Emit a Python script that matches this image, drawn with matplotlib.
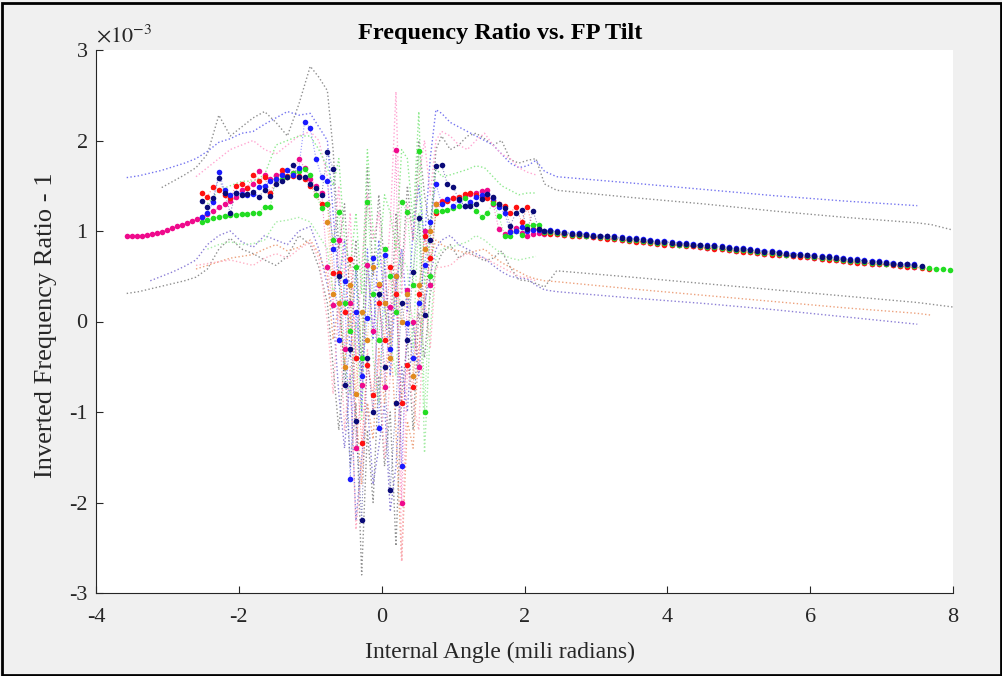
import numpy as np
import matplotlib.pyplot as plt
from matplotlib.patches import Rectangle

plt.rcParams['font.family'] = ['Liberation Serif', 'DejaVu Serif']
plt.rcParams['mathtext.fontset'] = 'stix'
plt.rcParams['axes.unicode_minus'] = False

nan = np.nan

# x positions of the mean points (mili radians)
x_left = [-3.57, -3.50, -3.43, -3.36, -3.29, -3.22, -3.15, -3.08, -3.01, -2.94, -2.87, -2.80, -2.73, -2.66, -2.59]
x_mid1 = [-2.52, -2.44, -2.36, -2.28, -2.20, -2.12, -2.04, -1.96, -1.88, -1.80, -1.72,
          -1.64, -1.56, -1.48, -1.40, -1.32, -1.24, -1.16, -1.08, -1.00, -0.92, -0.84]
x_cen = [-0.76, -0.68, -0.60, -0.52, -0.44, -0.36, -0.28, -0.20, -0.12, -0.04,
         0.04, 0.12, 0.20, 0.28, 0.36, 0.44, 0.52, 0.60, 0.68, 0.76]
x_mid2 = [0.84, 0.92, 1.00, 1.08, 1.16, 1.24, 1.32, 1.40, 1.48, 1.56, 1.64, 1.72,
          1.80, 1.88, 1.96, 2.04, 2.12, 2.20, 2.28]
x_right = [2.36, 2.46, 2.56, 2.66, 2.76, 2.86, 2.96, 3.06, 3.16, 3.26, 3.36, 3.46, 3.56, 3.66,
           3.76, 3.86, 3.96, 4.06, 4.16, 4.26, 4.36, 4.46, 4.56, 4.66, 4.76, 4.86, 4.96, 5.06,
           5.16, 5.26, 5.36, 5.46, 5.56, 5.66, 5.76, 5.86, 5.96, 6.06, 6.16, 6.26, 6.36, 6.46,
           6.56, 6.66, 6.76, 6.86, 6.96, 7.06, 7.16, 7.26, 7.36, 7.46, 7.56, 7.66]
x_green_tail = [7.76, 7.86, 7.96]

# mean values (x 1e-3)
pink_y = ([0.94, 0.94, 0.94, 0.95, 0.96, 0.97, 0.98, 0.99, 1.01, 1.03, 1.05, 1.07, 1.09, 1.11, 1.13]
          + [1.16, 1.19, 1.22, 1.26, 1.30, 1.33, 1.38, 1.45, 1.48, 1.52, 1.66, 1.62, 1.58, 1.62,
             1.63, 1.60, 1.64, 1.80, 1.70, 1.58, 1.50, 1.42]
          + [0.60, 0.18, 0.90, -0.30, 0.20, -1.40, -0.70, 0.62, -0.10, 0.40, -0.72, 0.16, 1.90,
             -2.00, 0.35, 0.00, -0.50, 1.00, 0.40, 1.30]
          + [1.33, 1.34, 1.36, 1.37, 1.39, 1.41, 1.42, 1.44, 1.45, 1.30, 1.02, 0.97, 1.00, 1.03,
             0.98, 0.95, 0.97, 0.98, 0.97]
          + [0.98, 0.97, 0.96, 0.96, 0.95, 0.94, 0.93, 0.93, 0.92, 0.91, 0.90, 0.90, 0.89, 0.88,
             0.87, 0.87, 0.86, 0.85, 0.84, 0.84, 0.83, 0.82, 0.81, 0.81, 0.80, 0.79, 0.78, 0.78,
             0.77, 0.76, 0.75, 0.75, 0.74, 0.73, 0.72, 0.72, 0.71, 0.70, 0.69, 0.69, 0.68, 0.67,
             0.66, 0.66, 0.65, 0.64, 0.64, 0.63, 0.62, 0.61, 0.61, 0.60])
red_y = ([1.42, 1.38, 1.49, 1.45, 1.40, 1.36, 1.50, 1.52, 1.48, 1.62, 1.55, 1.60, 1.42, 1.58,
          1.67, 1.61, 1.61, 1.61, 1.58, 1.50, 1.40, 1.30]
         + [1.30, 0.54, 0.54, 0.10, 0.69, -0.40, -1.34, -0.48, -0.81, 0.20, -0.20, 0.60, 0.30,
            -0.90, -0.48, -0.72, 0.30, 0.95, 0.70, 1.20]
         + [1.32, 1.33, 1.37, 1.38, 1.41, 1.42, 1.40, 1.38, 1.36, 1.33, 1.30, 1.28, 1.20, 1.27,
            1.10, 1.26, 1.02, 1.02, 0.98]
         + [0.97, 0.97, 0.96, 0.95, 0.94, 0.94, 0.93, 0.92, 0.91, 0.91, 0.90, 0.89, 0.88, 0.88,
            0.87, 0.86, 0.85, 0.85, 0.84, 0.83, 0.83, 0.82, 0.81, 0.80, 0.80, 0.79, 0.78, 0.77,
            0.77, 0.76, 0.75, 0.74, 0.74, 0.73, 0.72, 0.71, 0.71, 0.70, 0.69, 0.68, 0.68, 0.67,
            0.66, 0.65, 0.65, 0.64, 0.63, 0.63, 0.62, 0.61, 0.60, 0.60, 0.59, 0.58])
blue_y = ([1.15, 1.20, 1.32, 1.65, 1.45, 1.40, 1.42, 1.41, 1.40, 1.41, 1.49, 1.50, 1.55, 1.58,
           1.62, 1.67, 1.62, 1.70, 2.20, 2.14, 1.80, 1.60]
          + [1.55, 0.80, -0.20, 0.45, -1.74, 0.10, -0.60, 0.04, 0.70, -1.18, 0.74, -0.30, 0.50,
             -1.60, -0.02, -0.40, 0.20, 0.62, 1.10, 1.52]
          + [1.30, 1.35, 1.28, 1.34, 1.28, 1.32, 1.38, 1.40, 1.41, 1.36, 1.26, 1.20, 0.99, 1.00,
             1.04, 1.00, 1.01, 1.01, 1.00]
          + [1.01, 1.00, 0.99, 0.98, 0.98, 0.97, 0.96, 0.95, 0.95, 0.94, 0.93, 0.92, 0.92, 0.91,
             0.90, 0.89, 0.89, 0.88, 0.87, 0.87, 0.86, 0.85, 0.84, 0.84, 0.83, 0.82, 0.81, 0.81,
             0.80, 0.79, 0.78, 0.78, 0.77, 0.76, 0.75, 0.75, 0.74, 0.73, 0.72, 0.72, 0.71, 0.70,
             0.69, 0.69, 0.68, 0.67, 0.67, 0.66, 0.65, 0.64, 0.64, 0.63])
navy_y = ([1.33, 1.26, 1.37, 1.59, 1.42, 1.20, 1.42, 1.40, 1.41, 1.43, 1.38, 1.45, 1.39, 1.52,
           1.55, 1.60, 1.73, 1.60, 1.60, 1.52, 1.48, 1.40]
          + [1.87, 1.69, 0.50, -0.70, -0.30, -1.10, -2.19, -0.40, -1.00, 0.30, -0.50, -1.86, -0.90,
             0.20, -0.20, 0.55, 1.14, 0.07, 0.90, 1.72]
          + [1.73, 1.52, 1.49, 1.35, 1.28, 1.28, 1.30, 1.35, 1.41, 1.38, 1.30, 1.25, 1.06, 1.20,
             1.23, 1.02, 1.22, 1.02, 1.00]
          + [1.00, 0.99, 0.98, 0.97, 0.97, 0.96, 0.95, 0.94, 0.94, 0.93, 0.92, 0.91, 0.91, 0.90,
             0.89, 0.88, 0.88, 0.87, 0.86, 0.86, 0.85, 0.84, 0.83, 0.83, 0.82, 0.81, 0.80, 0.80,
             0.79, 0.78, 0.77, 0.77, 0.76, 0.75, 0.74, 0.74, 0.73, 0.72, 0.71, 0.71, 0.70, 0.69,
             0.68, 0.68, 0.67, 0.66, 0.66, 0.65, 0.64, 0.63, 0.63, 0.62, 0.61])
green_y = ([1.10, 1.12, 1.14, 1.16, 1.17, 1.18, 1.18, 1.19, 1.19, 1.20, 1.20, 1.27, 1.27, 1.58,
            1.58, 1.60, 1.64, 1.66, 1.68, 1.62, 1.40, 1.25]
           + [1.30, 0.90, 1.21, 0.20, -0.10, 0.60, -0.40, 1.32, 0.30, -0.20, 0.80, 0.50, 0.10,
              1.32, 1.21, 0.40, 1.88, -1.00, 0.50, 1.22]
           + [1.22, 1.23, 1.25, 1.28, 1.36, 1.30, 1.22, 1.16, 1.20, 1.31, 1.17, 0.95, 0.95, 1.00,
              0.96, 1.05, 1.07, 1.07, 0.99]
           + [0.99, 0.98, 0.97, 0.96, 0.96, 0.95, 0.94, 0.93, 0.93, 0.92, 0.91, 0.90, 0.90, 0.89,
              0.88, 0.87, 0.87, 0.86, 0.85, 0.85, 0.84, 0.83, 0.82, 0.82, 0.81, 0.80, 0.79, 0.79,
              0.78, 0.77, 0.76, 0.76, 0.75, 0.74, 0.73, 0.73, 0.72, 0.71, 0.70, 0.70, 0.69, 0.68,
              0.67, 0.67, 0.66, 0.65, 0.65, 0.64, 0.63, 0.62, 0.62, 0.61, 0.60, 0.59]
           + [0.58, 0.58, 0.57])
orange_y = [1.10, 0.30, 0.20, -0.50, 0.40, -0.80, 0.10, -0.20, 0.60, 0.41, 0.20, -0.40, 0.50,
            0.00, 0.30, -0.60, 0.40, 0.80, 1.00, 1.30]

# spread (upper / lower) curves, shared x grid
xb_left = [-3.57, -3.4, -3.24, -3.08, -2.92, -2.76, -2.6, -2.44, -2.28, -2.12, -1.96, -1.8,
           -1.64, -1.48, -1.32, -1.16, -1.0, -0.88]
xb_mid2 = [0.84, 0.96, 1.08, 1.2, 1.32, 1.44, 1.56, 1.68, 1.8, 1.92, 2.04, 2.16, 2.28]
xb_right = [2.45, 3.5, 4.5, 5.5, 6.5, 7.5, 7.7, 8.0]

blue_up = ([1.59, 1.61, 1.64, 1.67, 1.71, 1.75, 1.80, 1.88, 1.98, 2.02, 2.08, 2.10, 2.18, 2.25, 2.32, 2.28, 2.30, 2.15]
           + [2.00, 1.20, 0.40, 0.90, -0.40, 0.60, -1.00, 0.80, -0.20, 0.90, 0.20, -0.60, 0.40, 0.80, 0.10, 1.00, 1.50, 0.90, 1.80, 2.34]
           + [2.30, 2.20, 2.15, 2.10, 2.05, 2.00, 1.95, 1.85, 1.75, 1.70, 1.72, 1.78, 1.66]
           + [1.60, 1.53, 1.46, 1.39, 1.33, 1.28, nan, nan])
gray_up = ([nan, nan, nan, 1.48, 1.55, 1.62, 1.70, 1.85, 2.28, 2.05, 2.15, 2.25, 2.32, 2.20, 2.05, 2.40, 2.82, 2.70]
           + [2.55, 1.90, 0.80, 1.30, 0.20, 0.90, -0.60, 1.70, 0.50, 1.40, 0.60, -0.20, 1.20, 0.50, 1.50, 0.90, 2.00, 1.40, 1.00, 1.90]
           + [2.05, 1.90, 1.95, 2.05, 2.08, 2.02, 1.95, 2.00, 1.79, 1.75, 1.78, 1.80, 1.52]
           + [1.45, 1.37, 1.30, 1.22, 1.15, 1.09, 1.07, 1.01])
gray_lo = ([0.31, 0.33, 0.36, 0.39, 0.42, 0.45, 0.49, 0.58, 0.80, 0.92, 0.80, 0.75, 0.68, 0.62, 0.72, 0.95, 0.85, 0.60]
           + [0.20, -0.50, -1.20, -0.40, -1.60, -0.90, -2.80, -1.20, -2.00, -0.60, -1.60, -1.00, -2.48, -0.80, -0.20, -1.20, 0.10, -0.40, 0.30, 0.60]
           + [0.75, 0.85, 0.70, 0.78, 0.72, 0.67, 0.70, 0.78, 0.60, 0.46, 0.45, 0.42, 0.38]
           + [0.56, 0.49, 0.42, 0.35, 0.28, 0.21, 0.19, 0.16])
purple_lo = ([nan, nan, 0.45, 0.50, 0.55, 0.61, 0.68, 0.85, 0.95, 1.00, 0.88, 0.82, 0.95, 0.90, 0.85, 1.00, 1.05, 0.80]
             + [0.40, 0.10, -0.80, -1.40, -0.60, -2.20, -1.50, -0.90, -1.80, -1.39, -0.90, -2.10, -1.60, -0.50, -1.00, 0.00, -0.60, 0.20, 0.50, 0.80]
             + [0.90, 0.95, 0.85, 0.80, 0.75, 0.70, 0.62, 0.55, 0.50, 0.48, 0.47, 0.40, 0.35]
             + [0.33, 0.26, 0.20, 0.13, 0.05, -0.03, nan, nan])
orange_lo = ([nan, nan, nan, nan, nan, nan, 0.58, 0.62, 0.66, 0.70, 0.72, 0.74, 0.80, 0.85, 0.78, 0.82, 0.90, 0.75]
             + [0.50, -0.20, 0.20, -0.50, 0.10, -1.00, -1.80, -0.90, -1.30, -0.30, -0.90, -0.10, -1.20, -2.65, -1.10, -1.40, -0.30, 0.30, 0.70, 0.90]
             + [0.85, 0.80, 0.78, 0.75, 0.78, 0.80, 0.72, 0.65, 0.60, 0.55, 0.50, 0.47, 0.45]
             + [0.44, 0.36, 0.29, 0.22, 0.15, 0.09, 0.07, nan])
pink_up = ([nan, nan, nan, nan, nan, nan, 1.60, 1.70, 1.80, 1.90, 1.95, 2.00, 1.90, 1.85, 1.95, 2.05, 2.10, 2.00]
           + [1.60, 0.80, 1.50, 0.50, 1.20, -0.40, 0.60, 1.40, 0.90, 1.20, 0.20, 1.10, 2.54, 0.30, 1.30, 0.90, 1.60, 2.00, 1.40, 2.00]
           + [2.10, 2.05, 1.95, 1.90, 2.00, 2.08, 1.95, 1.85, 1.80, 1.70, 1.65, 1.62, nan]
           + [nan] * 8)
pink_lo = ([nan, nan, nan, nan, nan, nan, 0.62, 0.64, 0.66, 0.68, 0.65, 0.62, 0.70, 0.75, 0.70, 0.80, 0.88, 0.70]
           + [0.00, -0.80, 0.20, -1.20, -0.50, -2.30, -1.60, -0.30, -1.00, -0.40, -1.50, -0.60, 0.90, -2.65, -0.50, -0.90, -1.20, 0.30, -0.30, 0.60]
           + [0.60, 0.62, 0.70, 0.75, 0.72, 0.70, 0.65, 0.60, 0.55, 0.50, 0.48, 0.45, nan]
           + [nan] * 8)
green_up = ([nan, nan, nan, nan, nan, nan, nan, 1.30, 1.45, 1.50, 1.55, 1.55, 1.62, 1.95, 2.00, 2.05, 2.05, 1.90]
            + [1.70, 1.50, 1.80, 0.90, 0.60, 1.20, 0.30, 1.90, 1.00, 0.60, 1.40, 1.20, 0.80, 1.90, 1.80, 1.10, 2.32, 0.40, 1.00, 1.70]
            + [1.60, 1.62, 1.65, 1.68, 1.72, 1.70, 1.60, 1.50, 1.45, 1.40, 1.42, 1.42, nan]
            + [nan] * 8)
green_lo = ([nan, nan, nan, nan, nan, nan, nan, 0.80, 0.85, 0.88, 0.85, 0.86, 0.90, 1.10, 1.12, 1.15, 1.10, 0.95]
            + [0.80, 0.30, 0.60, -0.50, -0.80, 0.00, -1.10, 0.70, -0.40, -0.90, 0.20, -0.20, -0.60, 0.70, 0.60, -0.30, 1.20, -1.45, -0.10, 0.70]
            + [0.80, 0.82, 0.85, 0.88, 0.95, 0.90, 0.82, 0.75, 0.70, 0.68, 0.70, 0.72, nan]
            + [nan] * 8)

xb = xb_left + x_cen + xb_mid2 + xb_right
spreads = [(gray_up, '#8f8f8f'), (gray_lo, '#8f8f8f'), (blue_up, '#7474f0'),
           (purple_lo, '#8c7fd6'), (orange_lo, '#eda27d'), (pink_up, '#ffa6d2'),
           (pink_lo, '#ffb0c4'), (green_up, '#8fe98f'), (green_lo, '#a6eca6')]

# pink first so the others sit on top of it where they overlap
means = [(x_left + x_mid1 + x_cen + x_mid2 + x_right[:52], pink_y, '#ef0a8c'),
         (x_mid1 + x_cen + x_mid2 + x_right, red_y, '#ff1010'),
         (x_mid1 + x_cen + x_mid2 + x_right + x_green_tail, green_y, '#22dd22'),
         (x_mid1 + x_cen + x_mid2 + x_right[:52], blue_y, '#1a1aff'),
         (x_cen, orange_y, '#e08a1e'),
         (x_mid1 + x_cen + x_mid2 + x_right[:53], navy_y, '#0a0a78')]

fig = plt.figure(figsize=(10.03, 6.76), dpi=100, facecolor='#f0f0f0')
ax = fig.add_axes([96 / 1003, 1 - 593 / 676, (953 - 96) / 1003, (593 - 50) / 676])
ax.set_facecolor('white')

for yy, c in spreads:
    ax.plot(xb, yy, ':', color=c, lw=1.0, zorder=1)

for xx, yy, c in means:
    ax.plot(xx, yy, ':', color=c, lw=0.8, alpha=0.45, zorder=2)
for xx, yy, c in means:
    ax.plot(xx, yy, 'o', color=c, ms=4, mew=0, zorder=3)

ax.set_xlim(-4, 8)
ax.set_ylim(-3, 3)
ax.set_xticks([-4, -2, 0, 2, 4, 6, 8])
ax.set_yticks([-3, -2, -1, 0, 1, 2, 3])
for s in ['top', 'right']:
    ax.spines[s].set_visible(False)
for s in ['left', 'bottom']:
    ax.spines[s].set_color('#262626')
    ax.spines[s].set_linewidth(0.8)
ax.tick_params(direction='in', length=5, width=0.8, color='#262626',
               labelsize=16, labelcolor='#262626')
ax.tick_params(axis='x', pad=11)
ax.tick_params(axis='y', pad=6)

ax.set_xlabel('Internal Angle (mili radians)', fontsize=17, color='#262626', va='center')
ax.xaxis.set_label_coords((500 - 96) / 857, -(652 - 593) / 543)
ax.set_ylabel('Inverted Frequency Ratio - 1', fontsize=19, color='#262626', va='center')
ax.yaxis.set_label_coords(-(96 - 46) / 857, (593 - 325) / 543)

fig.text(500 / 1003, 1 - 33 / 676, 'Frequency Ratio vs. FP Tilt', ha='center', va='center',
         fontsize=17.5, fontweight='bold', color='black')
fig.text(96 / 1003, 1 - 36 / 676, r'$\times10^{-3}$', ha='left', va='center',
         fontsize=16, color='#262626')

fig.patches.append(Rectangle((0.002, 0.002), 0.996, 0.994, transform=fig.transFigure,
                             fill=False, edgecolor='black', lw=2))

fig.savefig('out.png', dpi=100, facecolor=fig.get_facecolor())
